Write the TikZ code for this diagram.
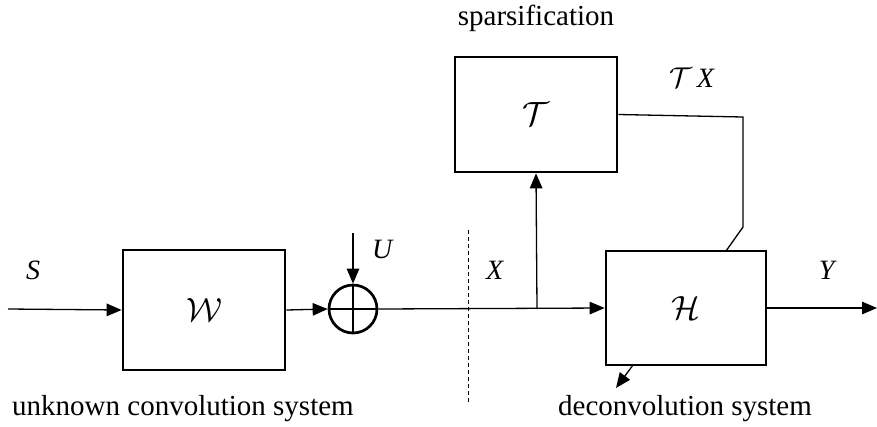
\documentclass[tikz,border=0pt]{standalone}
\usepackage{fontspec}
\setmainfont{Liberation Serif}
\usetikzlibrary{arrows.meta}
\begin{document}
\begin{tikzpicture}[x=1pt,y=-1pt,
  blk/.style={draw,line width=2.7pt,inner sep=0pt},
  conn/.style={line width=1.3pt},
  arr/.style={conn,-{Triangle[length=15pt,width=12.5pt]}},
  lbl/.style={inner sep=0pt,font=\fontsize{28}{30}\selectfont},
  txt/.style={inner sep=0pt,font=\fontsize{29}{32}\selectfont},
  cal/.style={inner sep=0pt,font=\fontsize{24.88}{30}\selectfont}]
\newcommand\bigcal[1]{\scalebox{1.35}{$\mathcal{#1}$}}
\useasboundingbox (0,0) rectangle (877,426);
% blocks
\node[blk,minimum width=162pt,minimum height=120pt] (W) at (204,310) {};
\node[cal] at (W.center) {\bigcal{W}};
\node[blk,circle,minimum size=48pt] (sum) at (353,309) {};
\node[blk,minimum width=162pt,minimum height=115pt] (T) at (536,114.5) {};
\node[cal] at (T.center) {\bigcal{T}};
\node[blk,minimum width=160pt,minimum height=114pt] (H) at (686,308) {};
\node[cal] at (H.center) {\bigcal{H}};
% coordinates
\coordinate (sin) at (8,309);
\coordinate (uin) at (353,233);
\coordinate (br) at (537,309);
\coordinate (tc) at (743,117);
\coordinate (td) at (743,227);
\coordinate (ht) at (726,251);
\coordinate (yout) at (877,308);
\coordinate (ha) at (633,365);
\coordinate (hb) at (616,388);
\coordinate (d1) at (468,230);
\coordinate (d2) at (468,402);
% cross in summation
\draw[conn] (sum.north) -- (sum.south);
\draw[conn] (sum.west) -- (sum.east);
% connectors
\draw[arr] (sin) -- (W.west);
\draw[arr] (W.east) -- (sum.west);
\draw[arr] (uin) -- (sum.north);
\draw[arr] (sum.east) -- (H.west);
\draw[arr] (br) -- (T.south);
\draw[conn] (T.east) -- (tc) -- (td) -- (ht);
\draw[arr] (H.east) -- (yout);
\draw[arr] (ha) -- (hb);
\draw[line width=0.9pt,dash pattern=on 4pt off 3pt] (d1) -- (d2);
% labels
\node[lbl] (lS) at (33,270) {\textit{S}};
\node[lbl] (lU) at (383,249) {\textit{U}};
\node[lbl] (lX) at (495,270) {\textit{X}};
\node[lbl] (lY) at (828,270) {\textit{Y}};
\node[lbl] (lTX) at (692,78) {\scalebox{1.15}{$\mathcal{T}$}\,\textit{X}};
\node[txt,anchor=base] (lsp) at (536,25) {sparsification};
\node[txt,anchor=base west] (lun) at (12,415) {unknown convolution system};
\node[txt,anchor=base] (lde) at (685,415) {deconvolution system};
\end{tikzpicture}
\end{document}
